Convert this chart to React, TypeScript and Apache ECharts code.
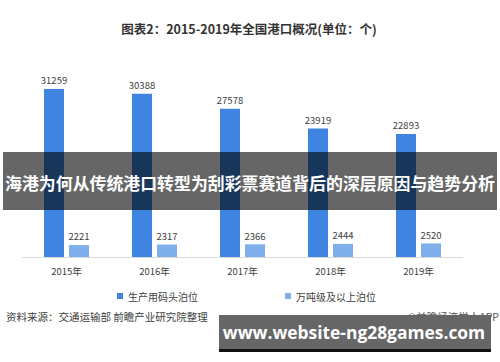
import React, { useEffect, useRef } from "react";
import * as echarts from "echarts";

const categories = ["2015年", "2016年", "2017年", "2018年", "2019年"];
const seriesNames = ["生产用码头泊位", "万吨级及以上泊位"];
const productionBerths = [31259, 30388, 27578, 23919, 22893];
const largeBerths = [2221, 2317, 2366, 2444, 2520];

const titleText = "图表2：2015-2019年全国港口概况(单位：个)";
const bannerText = "海港为何从传统港口转型为刮彩票赛道背后的深层原因与趋势分析";
const sourceText = "资料来源：交通运输部 前瞻产业研究院整理";
const creditText = "@前瞻经济学人APP";
const siteText = "www.website-ng28games.com";

const FONT = '"Noto Sans CJK SC", "Noto Sans", sans-serif';

export default function App() {
  const ref = useRef<HTMLDivElement>(null);
  useEffect(() => {
    if (!ref.current) return;
    document.body.style.margin = "0";
    const chart = echarts.init(ref.current, null, { renderer: "svg" });
    const labelCfg = {
      show: true,
      position: "top",
      distance: 4,
      color: "#404040",
      fontSize: 9.5,
      fontFamily: FONT,
    };
    const watermark = (x: number, y: number) => ({
      type: "text",
      x,
      y,
      rotation: Math.PI / 6,
      z: 1,
      style: {
        text: "前瞻产业研究院",
        fill: "rgba(0,0,0,0.022)",
        font: `bold 22px ${FONT}`,
      },
    });
    chart.setOption({
      animation: false,
      backgroundColor: "#ffffff",
      textStyle: { fontFamily: FONT },
      grid: { left: 22.5, right: 37.5, top: 69, bottom: 105 },
      xAxis: {
        type: "category",
        data: categories,
        axisLine: { lineStyle: { color: "#d9d9d9", width: 1 } },
        axisTick: { show: false },
        axisLabel: { color: "#404040", fontSize: 9.5, margin: 9, fontFamily: FONT },
      },
      yAxis: {
        type: "value",
        min: 0,
        max: 35000,
        show: false,
        splitLine: { show: false },
      },
      legend: [
        {
          data: [seriesNames[0]],
          left: 112,
          top: 286,
          icon: "rect",
          itemWidth: 6,
          itemHeight: 6,
          textStyle: { color: "#404040", fontSize: 10, fontFamily: FONT },
        },
        {
          data: [seriesNames[1]],
          left: 280,
          top: 286,
          icon: "rect",
          itemWidth: 6,
          itemHeight: 6,
          textStyle: { color: "#404040", fontSize: 10, fontFamily: FONT },
        },
      ],
      series: [
        {
          name: seriesNames[0],
          type: "bar",
          data: productionBerths,
          barWidth: 20,
          barGap: "25%",
          itemStyle: { color: "#3e84e0" },
          label: labelCfg,
        },
        {
          name: seriesNames[1],
          type: "bar",
          data: largeBerths,
          barWidth: 20,
          barGap: "25%",
          itemStyle: { color: "#7eb0ec" },
          label: labelCfg,
        },
      ],
      graphic: [
        watermark(20, 110),
        watermark(190, 115),
        watermark(340, 120),
        watermark(30, 250),
        watermark(200, 255),
        watermark(340, 262),
        {
          type: "text",
          x: 249,
          y: 28,
          z: 50,
          style: {
            text: titleText,
            fill: "#333333",
            font: `bold 12.5px ${FONT}`,
            align: "center",
            verticalAlign: "middle",
          },
        },
        {
          type: "rect",
          z: 100,
          shape: { x: 3, y: 152, width: 494, height: 58 },
          style: { fill: "rgba(0,0,0,0.6)" },
        },
        {
          type: "text",
          x: 250,
          y: 182,
          z: 101,
          style: {
            text: bannerText,
            fill: "#ffffff",
            font: `bold 16.9px ${FONT}`,
            align: "center",
            verticalAlign: "middle",
          },
        },
        {
          type: "text",
          x: 6,
          y: 316,
          z: 50,
          style: {
            text: sourceText,
            fill: "#404040",
            font: `10.5px ${FONT}`,
            align: "left",
            verticalAlign: "middle",
          },
        },
        {
          type: "text",
          x: 499,
          y: 316,
          z: 50,
          style: {
            text: creditText,
            fill: "#555555",
            font: `10.5px ${FONT}`,
            align: "right",
            verticalAlign: "middle",
          },
        },
        {
          type: "rect",
          z: 100,
          shape: { x: 219, y: 316, width: 272, height: 36 },
          style: { fill: "#111111" },
        },
        {
          type: "rect",
          z: 101,
          shape: { x: 219, y: 315, width: 272, height: 34 },
          style: { fill: "#666666" },
        },
        {
          type: "text",
          x: 354,
          y: 332,
          z: 102,
          style: {
            text: siteText,
            fill: "#ffffff",
            font: `bold 17.4px "Open Sans", "DejaVu Sans", sans-serif`,
            align: "center",
            verticalAlign: "middle",
          },
        },
      ],
    });
    return () => chart.dispose();
  }, []);
  return <div ref={ref} style={{ width: 500, height: 362 }} />;
}
